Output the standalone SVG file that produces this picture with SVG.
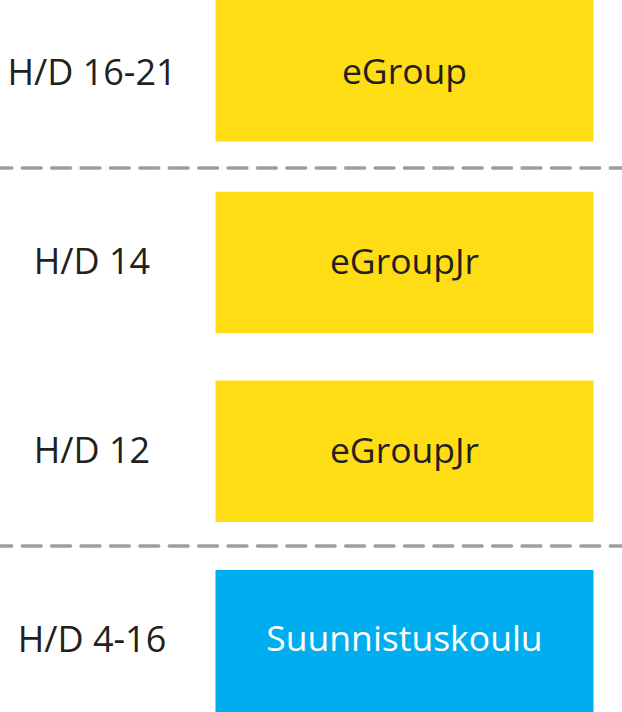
<svg xmlns="http://www.w3.org/2000/svg" width="622" height="712" viewBox="0 0 622 712">
<style>
  .lbl { font-family: "Open Sans", "Noto Sans", sans-serif; font-size: 36px; fill: #231f20; text-anchor: middle; }
  .box-y { fill: #ffdd15; }
  .box-b { fill: #00aeef; }
  .btxt { font-family: "Open Sans", "Noto Sans", sans-serif; font-size: 35.5px; text-anchor: middle; }
  .sep { stroke: #9d9ea2; stroke-width: 3.3; stroke-linecap: round; stroke-dasharray: 19 10.4; stroke-dashoffset: 7.2; fill: none; }
</style>
<rect width="622" height="712" fill="#ffffff"/>
<g id="separators">
  <line class="sep" x1="0" y1="168" x2="622" y2="168"/>
  <line class="sep" x1="0" y1="546" x2="622" y2="546"/>
</g>
<g id="label-16-21"><text class="lbl" x="92" y="85">H/D 16-21</text></g>
<g id="label-14"><text class="lbl" x="92" y="274">H/D 14</text></g>
<g id="label-12"><text class="lbl" x="92" y="463">H/D 12</text></g>
<g id="label-4-16"><text class="lbl" x="92" y="652">H/D 4-16</text></g>
<g id="node-egroup">
  <rect class="box-y" x="215.5" y="0" width="378" height="141.5"/>
  <text class="btxt" x="404.5" y="83.5" fill="#231f20">eGroup</text>
</g>
<g id="node-egroupjr-14">
  <rect class="box-y" x="215.5" y="191.7" width="378" height="141.5"/>
  <text class="btxt" x="404.5" y="273.5" fill="#231f20">eGroupJr</text>
</g>
<g id="node-egroupjr-12">
  <rect class="box-y" x="215.5" y="380.5" width="378" height="141.5"/>
  <text class="btxt" x="404.5" y="462.5" fill="#231f20">eGroupJr</text>
</g>
<g id="node-suunnistuskoulu">
  <rect class="box-b" x="215.5" y="570" width="378" height="142"/>
  <text class="btxt" x="404.5" y="650.5" fill="#ffffff">Suunnistuskoulu</text>
</g>
</svg>
